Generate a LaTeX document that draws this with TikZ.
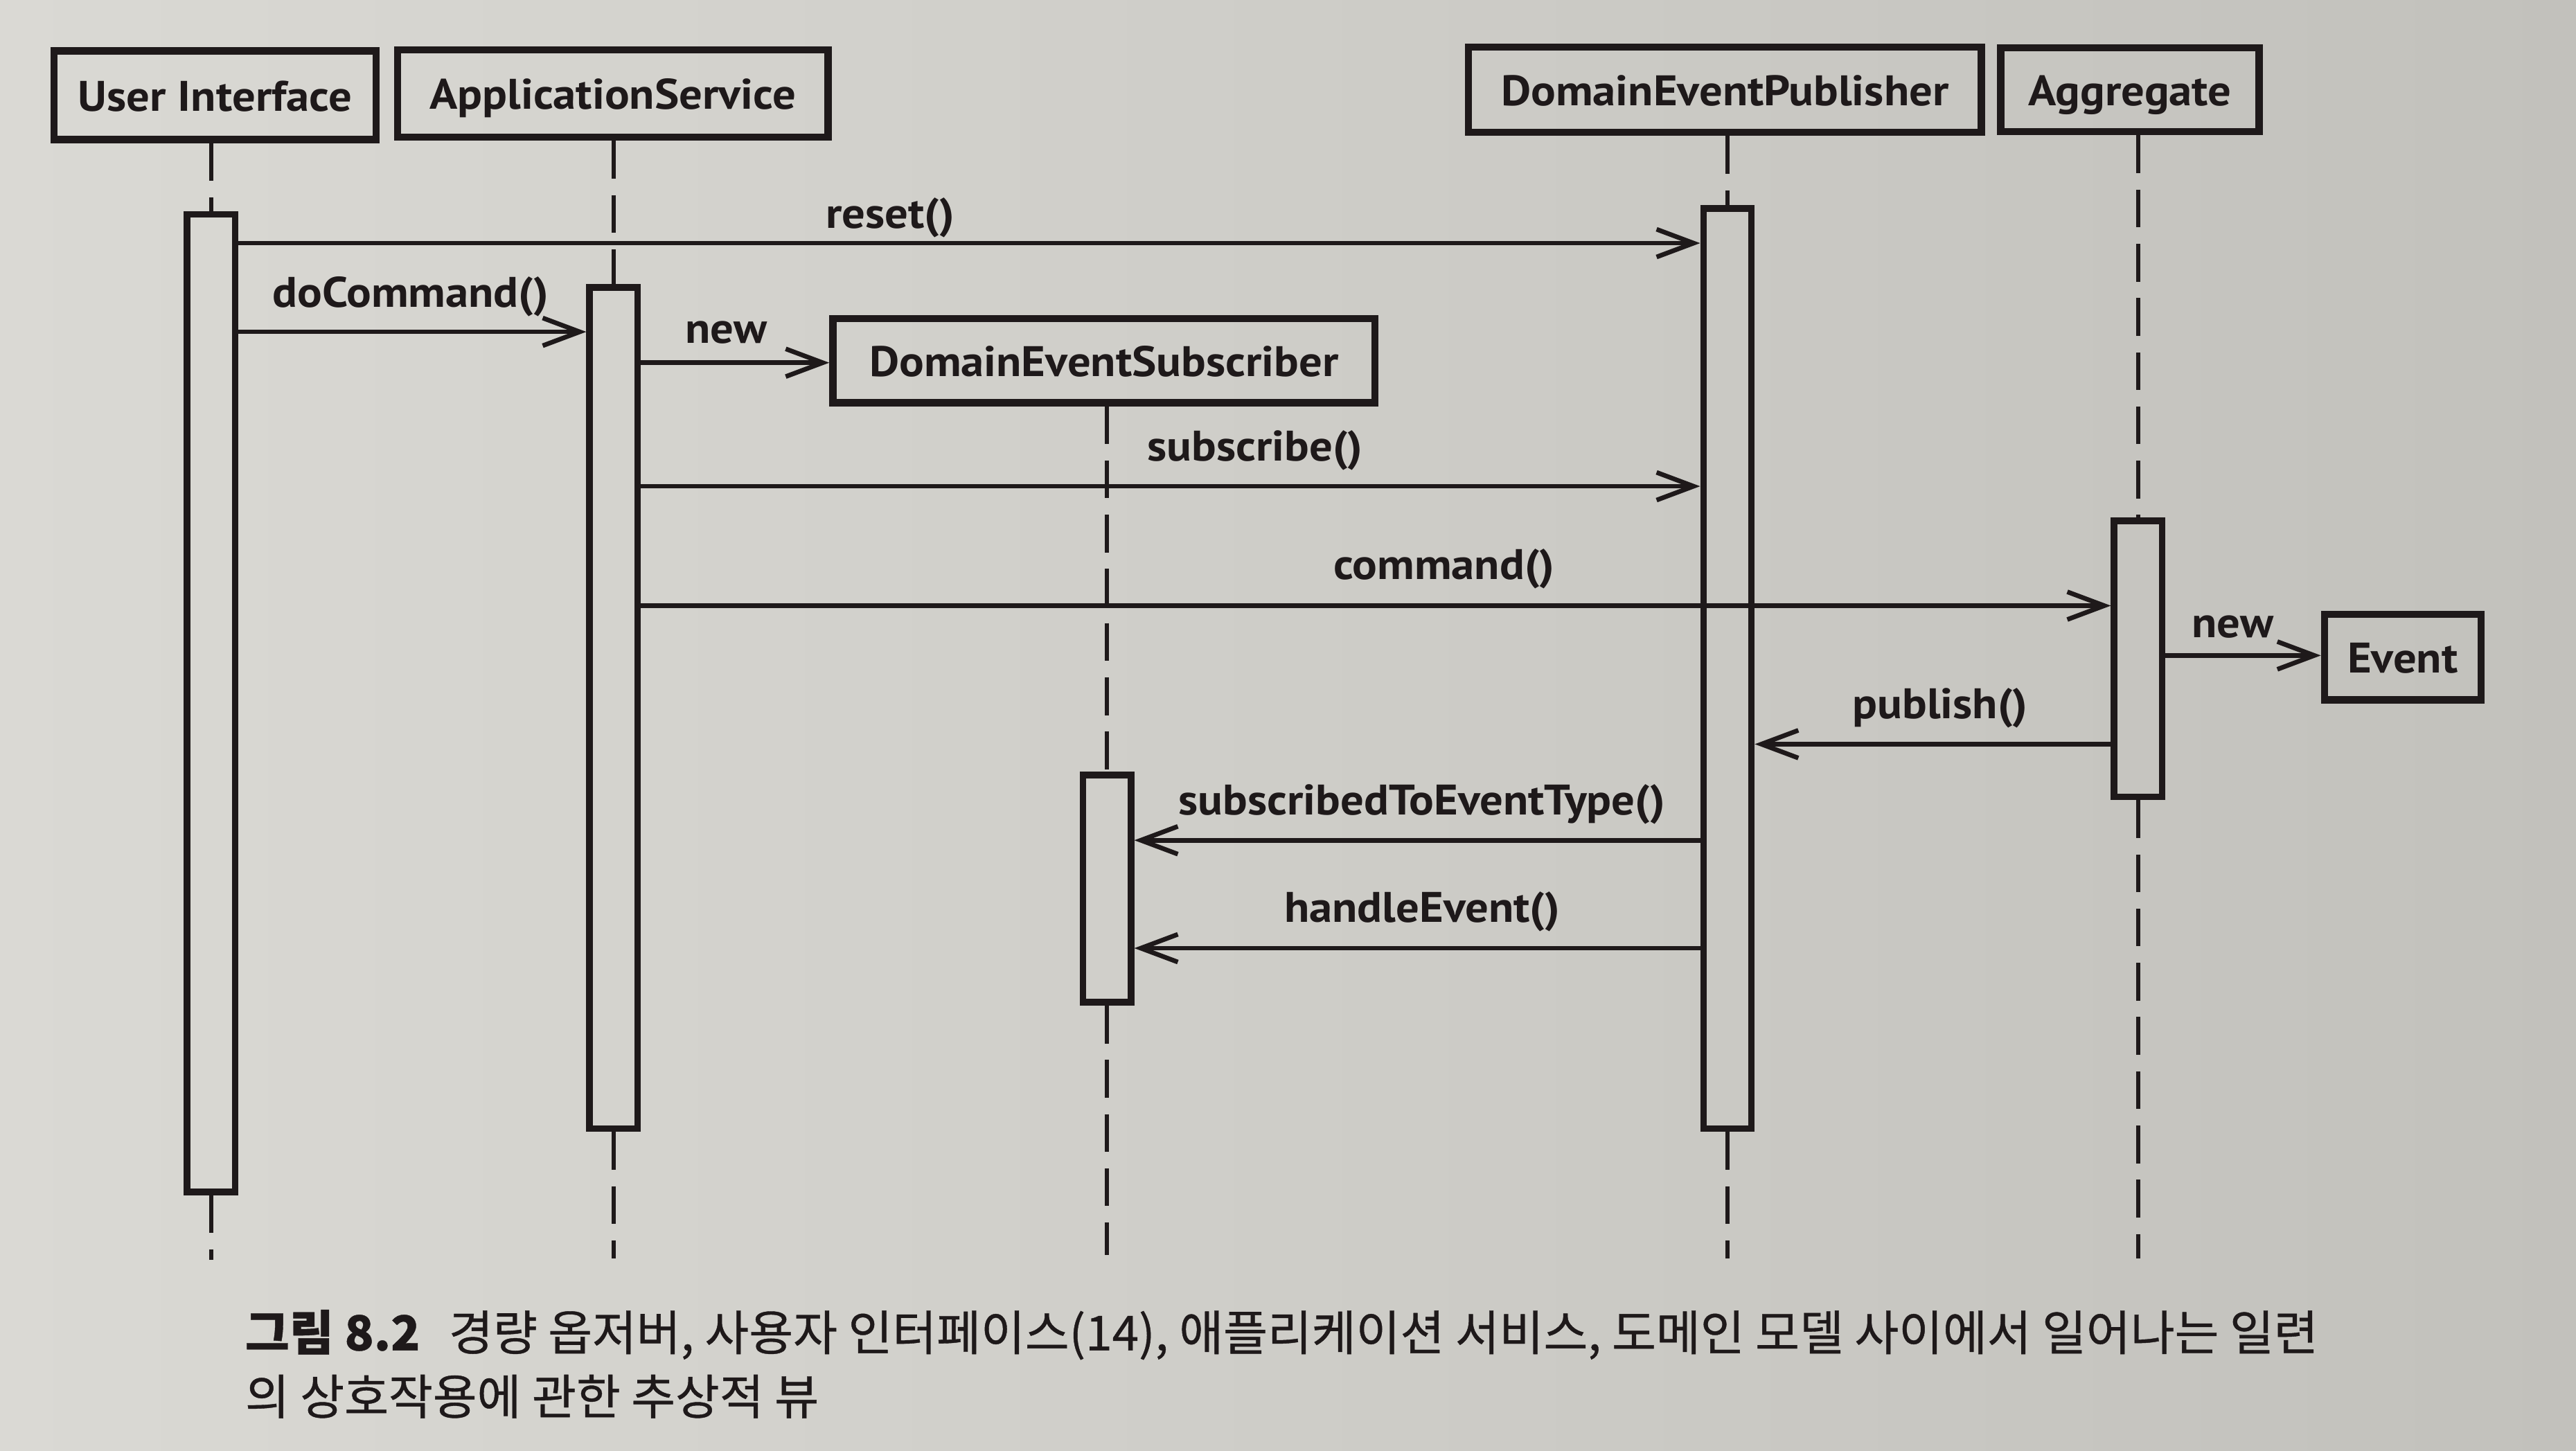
\documentclass[tikz,border=0pt]{standalone}
\usepackage{fontspec}
\setmainfont{PT Sans}[FakeStretch=1.08]
\newfontfamily\kr{Noto Sans CJK KR}[FakeBold=0.6]
\usetikzlibrary{arrows.meta}
\definecolor{ink}{RGB}{30,25,26}
\definecolor{paperL}{RGB}{218,217,212}
\definecolor{paperR}{RGB}{194,193,188}
\begin{document}
\begin{tikzpicture}[x=0.025cm,y=-0.025cm,
  txt/.style={font=\fontsize{18.5}{21}\selectfont\bfseries,text=ink},
  objbox/.style={txt,draw=ink,line width=3.1pt,inner sep=0pt,text height=13.5pt,text depth=0pt},
  actbox/.style={draw=ink,line width=2.9pt,inner sep=0pt,minimum width=0.73cm},
  lifeline/.style={draw=ink,line width=1.7pt,dash pattern=on 0.575cm off 0.25cm},
  msg/.style={draw=ink,line width=2pt,-{Straight Barb[length=16pt,width=12pt,line width=2pt]}},
  lbl/.style={txt,anchor=base,inner sep=0pt},
  captext/.style={font=\kr\fontsize{20.8}{23}\selectfont,text=ink,anchor=base west,inner sep=0pt},
]
\useasboundingbox (0,0) rectangle (1568,883);
\shade[left color=paperL,right color=paperR] (0,0) rectangle (1568,883);

% object boxes
\node[objbox,minimum width=4.9cm,minimum height=1.35cm] (ui) at (131,58) {User Interface};
\node[objbox,minimum width=6.55cm,minimum height=1.33cm] (as) at (373,57) {ApplicationService};
\node[objbox,minimum width=7.8cm,minimum height=1.3cm] (dep) at (1050,54.6) {DomainEventPublisher};
\node[objbox,minimum width=3.93cm,minimum height=1.28cm] (agg) at (1296.5,54.6) {Aggregate};
\node[objbox,minimum width=8.25cm,minimum height=1.28cm] (des) at (672,219.5) {DomainEventSubscriber};
\node[objbox,minimum width=2.38cm,minimum height=1.3cm] (ev) at (1462.5,400) {Event};

% activations
\node[actbox,minimum height=14.875cm] (uiA) at (128.5,428) {};
\node[actbox,minimum height=12.8cm] (asA) at (373.5,431) {};
\node[actbox,minimum height=14.0cm] (depA) at (1051.5,407) {};
\node[actbox,minimum height=4.2cm] (aggA) at (1301.5,401) {};
\node[actbox,minimum height=3.455cm] (desA) at (673.8,541) {};

% lifeline ends
\coordinate (uiEnd) at (128.5,767);
\coordinate (asEnd) at (373.5,766);
\coordinate (depEnd) at (1051.5,766);
\coordinate (aggEnd) at (1301.5,766);
\coordinate (desEnd) at (673.8,764);

% lifelines
\draw[lifeline] (uiA.north |- ui.south) -- (uiA.north);
\draw[lifeline] (uiA.south) -- (uiEnd);
\draw[lifeline] (asA.north |- as.south) -- (asA.north);
\draw[lifeline] (asA.south) -- (asEnd);
\draw[lifeline] (depA.north |- dep.south) -- (depA.north);
\draw[lifeline] (depA.south) -- (depEnd);
\draw[lifeline] (aggA.north |- agg.south) -- (aggA.north);
\draw[lifeline] (aggA.south) -- (aggEnd);
\draw[lifeline] (desA.north |- des.south) -- (desA.north);
\draw[lifeline] (desA.south) -- (desEnd);

% messages
\draw[msg] (uiA.east |- 0,148) -- (depA.west |- 0,148);
\draw[msg] (uiA.east |- 0,202) -- (asA.west |- 0,202);
\draw[msg] (asA.east |- 0,220.8) -- (des.west |- 0,220.8);
\draw[msg] (asA.east |- 0,296) -- (depA.west |- 0,296);
\draw[msg] (asA.east |- 0,368.7) -- (aggA.west |- 0,368.7);
\draw[msg] (aggA.east |- 0,399) -- (ev.west |- 0,399);
\draw[msg] (aggA.west |- 0,453) -- (depA.east |- 0,453);
\draw[msg] (depA.west |- 0,511.5) -- (desA.east |- 0,511.5);
\draw[msg] (depA.west |- 0,577.2) -- (desA.east |- 0,577.2);

% labels
\node[lbl] (lreset) at (542,139) {reset()};
\node[lbl] (ldo) at (250,187) {doCommand()};
\node[lbl] (lnew1) at (442,209) {new};
\node[lbl] (lsub) at (764,280.5) {subscribe()};
\node[lbl] (lcmd) at (879,352.5) {command()};
\node[lbl] (lnew2) at (1359,388) {new};
\node[lbl] (lpub) at (1181,437.5) {publish()};
\node[lbl] (lste) at (865.6,496) {subscribedToEventType()};
\node[lbl] (lhe) at (865.7,561.5) {handleEvent()};

% caption
\node[captext] (cap1) at (149,822) {\textbf{그림 8.2}\hspace{0.6em}경량 옵저버, 사용자 인터페이스(14), 애플리케이션 서비스, 도메인 모델 사이에서 일어나는 일련};
\node[captext] (cap2) at (149,861) {의 상호작용에 관한 추상적 뷰};
\end{tikzpicture}
\end{document}
